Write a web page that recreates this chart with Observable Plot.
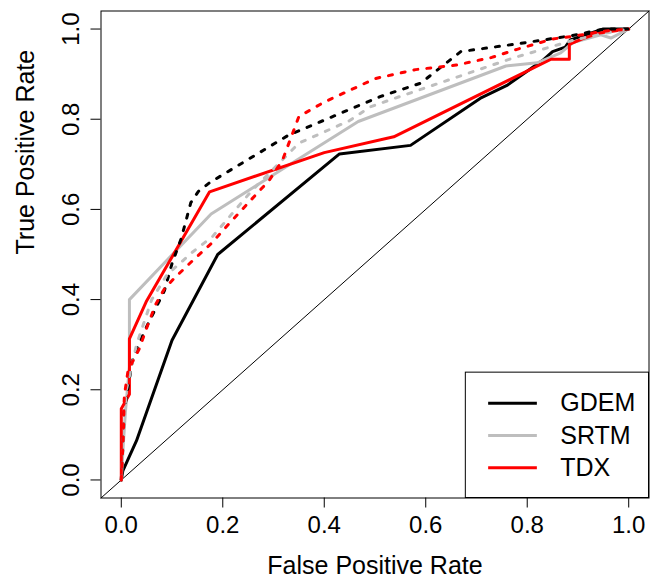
<!DOCTYPE html>
<html>
<head>
<meta charset="utf-8">
<script src="https://cdn.jsdelivr.net/npm/d3@7"></script>
<script src="https://cdn.jsdelivr.net/npm/@observablehq/plot@0.6"></script>
<style>
  html, body { margin: 0; padding: 0; background: #fff; }
</style>
</head>
<body>
<div id="chart"></div>
<script>
// ---- data ----
const xTicks = [0, 0.2, 0.4, 0.6, 0.8, 1.0];
const yTicks = [0, 0.2, 0.4, 0.6, 0.8, 1.0];
const seriesNames = ["GDEM", "SRTM", "TDX"];
const seriesColors = ["#000000", "#BEBEBE", "#FF0000"];

// solid curves: [false positive rate, true positive rate]
const gdemSolid = [[0,0],[0.003,0.02],[0.03,0.087],[0.10,0.31],[0.19,0.50],[0.43,0.723],[0.57,0.742],[0.71,0.848],[0.76,0.875],[0.83,0.93],[0.85,0.95],[0.875,0.96],[0.885,0.976],[0.95,1],[1,1]];
const srtmSolid = [[0,0],[0.004,0.08],[0.008,0.15],[0.016,0.25],[0.016,0.40],[0.177,0.59],[0.467,0.795],[0.758,0.918],[0.82,0.925],[0.866,0.947],[0.89,0.97],[0.945,0.987],[0.965,0.98],[1,1]];
const tdxSolid  = [[0,0],[0,0.158],[0.016,0.19],[0.016,0.313],[0.049,0.395],[0.174,0.639],[0.40,0.726],[0.537,0.761],[0.847,0.933],[0.883,0.933],[0.883,0.966],[0.912,0.98],[0.942,0.991],[1,1]];

// dashed curves
const gdemDashed = [[0,0],[0.004,0.1],[0.006,0.155],[0.022,0.265],[0.03,0.29],[0.05,0.34],[0.085,0.42],[0.10,0.48],[0.118,0.535],[0.137,0.615],[0.152,0.64],[0.175,0.66],[0.33,0.765],[0.51,0.85],[0.59,0.88],[0.669,0.95],[0.78,0.967],[0.886,0.985],[0.952,1],[1,1]];
const srtmDashed = [[0,0],[0.005,0.12],[0.01,0.2],[0.03,0.3],[0.06,0.4],[0.09,0.455],[0.14,0.505],[0.18,0.54],[0.256,0.64],[0.30,0.69],[0.35,0.747],[0.45,0.797],[0.49,0.827],[0.53,0.843],[0.77,0.935],[0.89,0.975],[0.95,0.99],[1,1]];
const tdxDashed  = [[0,0],[0.004,0.1],[0.006,0.187],[0.013,0.24],[0.022,0.262],[0.035,0.29],[0.052,0.343],[0.068,0.39],[0.085,0.424],[0.104,0.447],[0.141,0.487],[0.177,0.524],[0.213,0.569],[0.249,0.613],[0.292,0.665],[0.318,0.71],[0.34,0.776],[0.35,0.806],[0.40,0.838],[0.50,0.89],[0.58,0.91],[0.66,0.92],[0.73,0.937],[0.78,0.955],[0.85,0.978],[0.89,0.984],[0.95,0.995],[1,1]];

const xLabel = "False Positive Rate";
const yLabel = "True Positive Rate";

// ---- layout ----
const dom = [-0.04, 1.04];
const font = "'Liberation Sans', Arial, Helvetica, sans-serif";
const solids = [gdemSolid, srtmSolid, tdxSolid];
const dashes = [gdemDashed, srtmDashed, tdxDashed];
const fmt = d3.format(".1f");

const curveMark = (pts, color, dashed) => Plot.line(pts, {
  x: d => d[0], y: d => d[1],
  stroke: color, strokeWidth: 3,
  strokeLinejoin: "round", strokeLinecap: "round",
  strokeDasharray: dashed ? "4,9" : null
});

// legend rows
const legendRows = seriesNames.map((name, i) => ({name, color: seriesColors[i], i}));
const legBox = {x1: 0.679, x2: dom[1], y1: dom[0], y2: 0.238};
const legLineX = [0.723, 0.819];
const legTextX = 0.865;
const legRowY = i => 0.170 - i * 0.0715;

const plot = Plot.plot({
  width: 659,
  height: 581,
  marginLeft: 100.5,
  marginRight: 10.5,
  marginTop: 10.5,
  marginBottom: 83.5,
  style: {fontFamily: font, background: "#fff", color: "#000"},
  x: {domain: dom},
  y: {domain: dom},
  marks: [
    // diagonal reference line spanning the panel
    Plot.line(dom.map(v => ({v})), {x: "v", y: "v", stroke: "#000", strokeWidth: 1}),
    ...solids.map((pts, i) => curveMark(pts, seriesColors[i], false)),
    ...dashes.map((pts, i) => curveMark(pts, seriesColors[i], true)),
    Plot.frame({stroke: "#000", strokeWidth: 1}),
    Plot.axisX({ticks: xTicks, tickSize: 10, tickPadding: 8, tickFormat: fmt, fontSize: 24, label: null, stroke: "#000"}),
    Plot.axisY({ticks: yTicks, tickSize: 10, tickPadding: 12, tickFormat: fmt, tickRotate: -90, fontSize: 24, label: null, stroke: "#000"}),
    Plot.text([xLabel], {frameAnchor: "bottom", dy: 68, fontSize: 25, lineAnchor: "middle", fill: "#000"}),
    Plot.text([yLabel], {frameAnchor: "left", dx: -75, rotate: -90, fontSize: 25, lineAnchor: "middle", fill: "#000"}),
    // legend
    Plot.rect([legBox], {x1: "x1", x2: "x2", y1: "y1", y2: "y2", fill: "#fff", stroke: "#000", strokeWidth: 1}),
    Plot.link(legendRows, {x1: () => legLineX[0], x2: () => legLineX[1], y1: d => legRowY(d.i), y2: d => legRowY(d.i), stroke: d => d.color, strokeWidth: 3}),
    Plot.text(legendRows, {x: () => legTextX, y: d => legRowY(d.i), text: "name", textAnchor: "start", fontSize: 25, fill: "#000"})
  ],
  color: {type: "identity"}
});
document.getElementById("chart").appendChild(plot);
</script>
</body>
</html>
